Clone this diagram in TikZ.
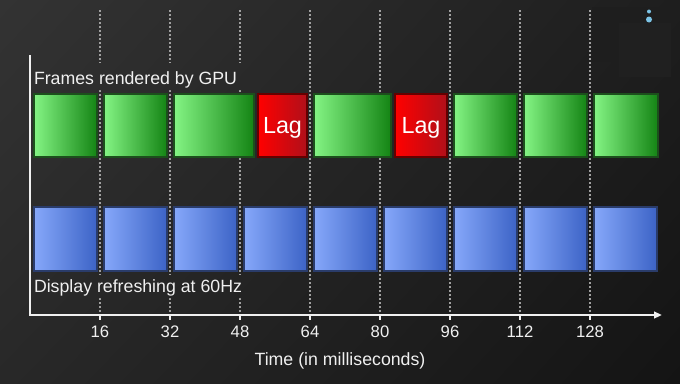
\documentclass[tikz,border=0pt]{standalone}
\usepackage{fontspec}
\setmainfont{Liberation Sans}
\usetikzlibrary{arrows.meta,shadings}
\definecolor{bgUL}{HTML}{333333}
\definecolor{bgUR}{HTML}{1E1E1E}
\definecolor{bgLL}{HTML}{282828}
\definecolor{bgLR}{HTML}{141414}
\definecolor{txt}{HTML}{F0F0F0}
\definecolor{gridc}{HTML}{A0A0A0}
\definecolor{okA}{HTML}{84F484}
\definecolor{okB}{HTML}{148414}
\definecolor{okedge}{HTML}{1C4F1C}
\definecolor{lagA}{HTML}{FF0000}
\definecolor{lagB}{HTML}{B0101A}
\definecolor{lagedge}{HTML}{640000}
\definecolor{dispA}{HTML}{86A8FA}
\definecolor{dispB}{HTML}{3C63C6}
\definecolor{dispedge}{HTML}{2A3C6A}
\definecolor{cornerA}{HTML}{1E1E1E}
\definecolor{cornerB}{HTML}{202020}
\definecolor{dotc}{HTML}{7CC4E6}

\begin{document}
\begin{tikzpicture}[x=0.75pt,y=-0.75pt,line width=1.5pt,>=Stealth,
  bgshade/.style={upper left=bgUL,upper right=bgUR,lower left=bgLL,lower right=bgLR},
  gridline/.style={draw=gridc,line width=1.5pt,dash pattern=on 1.5pt off 1.5pt},
  axisline/.style={draw=txt,line width=1.5pt},
  okframe/.style={draw=okedge,left color=okA,right color=okB,inner sep=0pt,
    minimum height=47.25pt,anchor=north west},
  lagframe/.style={draw=lagedge,left color=lagA,right color=lagB,inner sep=0pt,
    minimum height=47.25pt,anchor=north west,text=white,
    font=\fontsize{17.5}{20}\selectfont,text depth=0pt},
  refresh/.style={draw=dispedge,left color=dispA,right color=dispB,inner sep=0pt,
    minimum width=47.25pt,minimum height=48pt,anchor=north west},
  rowlabel/.style={anchor=base west,text=txt,inner sep=0pt,
    font=\fontsize{13.3}{16}\selectfont},
  ticklabel/.style={anchor=base,text=txt,inner sep=0pt,font=\fontsize{12.5}{15}\selectfont}]
\useasboundingbox (0,0) rectangle (680,383);
% ---------- background ----------
\shade[bgshade] (0,0) rectangle (680,383);
% 16 ms grid
\foreach \k in {1,...,8}
  \draw[gridline] ({30+70*\k},10) -- ({30+70*\k},315);
% grid hidden behind the row labels
\begin{scope}
\clip (29,63) rectangle (248,90) (29,275) rectangle (250,298);
\shade[bgshade] (0,0) rectangle (680,383);
\end{scope}
% corner patch, top right
\fill[cornerA] (592,7) rectangle (671,62);
\fill[cornerB] (619,23) rectangle (671,77);
\fill[dotc] (649,11.5) circle (2);
\fill[dotc] (649,19.5) circle (3);
% ---------- row labels ----------
\node[rowlabel] (gpulabel) at (33,84) {Frames rendered by GPU};
\node[rowlabel] (displabel) at (33,292) {Display refreshing at 60Hz};
% ---------- GPU frames ----------
\foreach \n/\x/\w in {1/32/65,2/102/65,3/172/82,5/312/79,7/452/65,8/522/65,9/592/66}
  \node[okframe,minimum width={(\w-2)*0.75pt}] (gpu\n) at ({\x+1},93) {};
\node[lagframe,minimum width=36.75pt] (gpu4) at (257,93) {Lag};
\node[lagframe,minimum width=39pt] (gpu6) at (394,93) {Lag};
% ---------- display refreshes ----------
\foreach \k in {0,...,8}
  \node[refresh] (disp\k) at ({33+70*\k},206) {};
% ---------- axes ----------
\coordinate (ytop) at (30,55);
\coordinate (origin) at (30,315);
\coordinate (xend) at (662,315);
\draw[axisline,-{Triangle[length=6pt,width=5pt]}] (ytop) -- (origin) -- (xend);
\foreach \t [count=\k] in {16,32,...,128} {
  \draw[axisline] ({30+70*\k},315) -- ++(0,5);
  \node[ticklabel] (tick\k) at ({30+70*\k},337) {\t};
}
\node[ticklabel,font=\fontsize{13.3}{16}\selectfont] (timelabel) at (340,365) {Time (in milliseconds)};
\end{tikzpicture}
\end{document}
